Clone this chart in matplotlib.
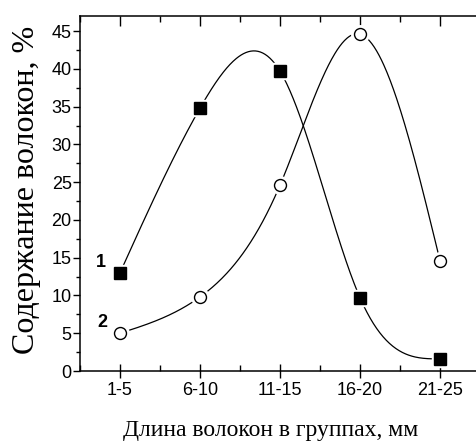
import numpy as np
import matplotlib
matplotlib.use("Agg")
import matplotlib.pyplot as plt
from matplotlib.ticker import MultipleLocator, FixedLocator

categories = ["1-5", "6-10", "11-15", "16-20", "21-25"]
series1 = [13.0, 34.8, 39.7, 9.7, 1.6]   # squares, curve 1
series2 = [5.0, 9.8, 24.6, 44.6, 14.6]   # circles, curve 2


def natural_spline(x, y, n=400):
    x = np.asarray(x, float)
    y = np.asarray(y, float)
    m = len(x)
    h = np.diff(x)
    A = np.zeros((m, m))
    b = np.zeros(m)
    A[0, 0] = 1
    A[-1, -1] = 1
    for i in range(1, m - 1):
        A[i, i - 1] = h[i - 1]
        A[i, i] = 2 * (h[i - 1] + h[i])
        A[i, i + 1] = h[i]
        b[i] = 6 * ((y[i + 1] - y[i]) / h[i] - (y[i] - y[i - 1]) / h[i - 1])
    M = np.linalg.solve(A, b)
    xs = np.linspace(x[0], x[-1], n)
    ys = np.empty_like(xs)
    for k, xv in enumerate(xs):
        i = min(np.searchsorted(x, xv) - 1, m - 2)
        i = max(i, 0)
        t1 = x[i + 1] - xv
        t0 = xv - x[i]
        ys[k] = (M[i] * t1 ** 3 / (6 * h[i]) + M[i + 1] * t0 ** 3 / (6 * h[i])
                 + (y[i] / h[i] - M[i] * h[i] / 6) * t1
                 + (y[i + 1] / h[i] - M[i + 1] * h[i] / 6) * t0)
    return xs, ys


fig = plt.figure(figsize=(4.76, 4.48), dpi=100)
ax = fig.add_axes([80 / 476, 77 / 448, 400 / 476, 355 / 448])

x = np.arange(1, len(categories) + 1)

for ser, mk, ms in [(series1, "s", 8.0), (series2, "o", 8.6)]:
    xs, ys = natural_spline(x, ser)
    ax.plot(xs, ys, color="black", lw=0.9, zorder=2)
    ax.plot(x, ser, linestyle="none", marker=mk, ms=ms + 4, mfc="white",
            mec="white", zorder=3)
    if mk == "s":
        ax.plot(x, ser, linestyle="none", marker=mk, ms=ms, mfc="black",
                mec="black", zorder=4)
    else:
        ax.plot(x, ser, linestyle="none", marker=mk, ms=ms, mfc="white",
                mec="black", mew=1.0, zorder=4)

ax.set_xlim(0.5, 5.5)
ax.set_ylim(0, 47)

ax.xaxis.set_major_locator(FixedLocator(x))
ax.set_xticklabels(categories)
ax.xaxis.set_minor_locator(MultipleLocator(0.5))
ax.yaxis.set_major_locator(MultipleLocator(5))
ax.yaxis.set_minor_locator(MultipleLocator(2.5))

for s in ax.spines.values():
    s.set_linewidth(1.1)

ax.tick_params(axis="y", which="major", direction="out", length=5, width=1.0,
               labelsize=13, pad=1)
ax.tick_params(axis="y", which="minor", direction="out", length=3, width=1.0)
ax.tick_params(axis="x", which="major", direction="inout", length=10, width=1.0,
               labelsize=13, pad=3, top=True)
ax.tick_params(axis="x", which="minor", direction="in", length=4, width=1.0,
               top=True)
for lab in ax.get_xticklabels() + ax.get_yticklabels():
    lab.set_fontfamily("Liberation Sans")

for t in ax.xaxis.get_major_ticks():
    t.tick2line.set_marker(3)  # tick pointing down from top spine
    t.tick2line.set_markersize(7)
for t in ax.xaxis.get_minor_ticks():
    t.tick2line.set_markersize(4)

ax.text(101, 448 - 262, "1", transform=None, fontsize=13, fontweight="bold",
        family="Liberation Sans", ha="center", va="center")
ax.text(102, 448 - 322, "2", transform=None, fontsize=13, fontweight="bold",
        family="Liberation Sans", ha="center", va="center")

fig.text(271 / 476, 1 - 430 / 448, "Длина волокон в группах, мм",
         family="Liberation Serif", fontsize=17, ha="center", va="center")
fig.text(27 / 476, 1 - 190 / 448, "Содержание волокон, %",
         family="Liberation Serif", fontsize=23, ha="center", va="center",
         rotation=90)

fig.savefig("out.png", dpi=100)
